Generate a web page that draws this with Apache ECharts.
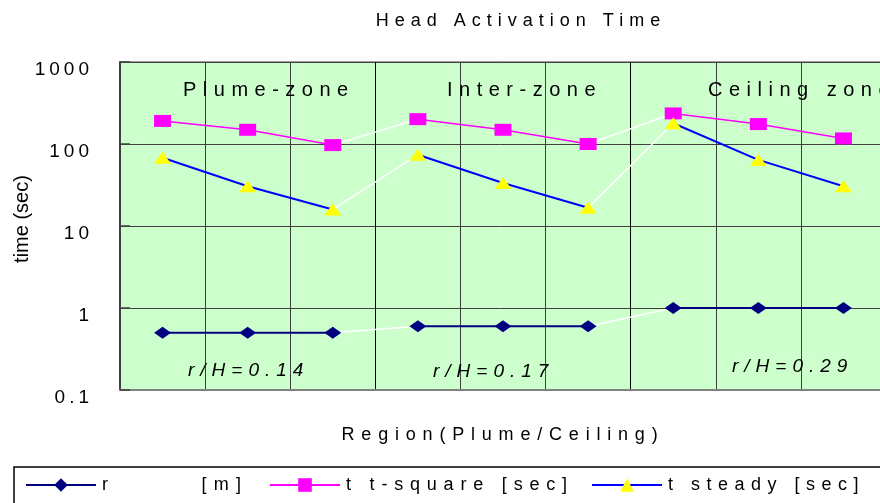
<!DOCTYPE html>
<html>
<head>
<meta charset="utf-8">
<script src="https://cdn.jsdelivr.net/npm/echarts@6/dist/echarts.min.js"></script>
<style>html,body{margin:0;padding:0;background:#fff}#chart{width:880px;height:503px}</style>
</head>
<body>
<div id="chart"></div>
<script>
// ---- data ----
const chartTitle = 'Head Activation Time';
const categories = ['1', '2', '3', '4', '5', '6', '7', '8', '9'];
const zoneNames = ['Plume-zone', 'Inter-zone', 'Ceiling zone'];
const ratioLabels = ['r/H=0.14', 'r/H=0.17', 'r/H=0.29'];
const yTickLabels = ['0.1', '1', '10', '100', '1000'];
const xAxisName = 'Region(Plume/Ceiling)';
const yAxisName = 'time (sec)';
const rName = 'r       [m]';
const tSquareName = 't t-square [sec]';
const tSteadyName = 't steady [sec]';
const rValues = [0.5, 0.5, 0.5, 0.6, 0.6, 0.6, 1.0, 1.0, 1.0];
const tSquareValues = [191, 149, 97, 201, 149, 100, 236, 175, 117];
const tSteadyValues = [68, 30.5, 15.9, 74, 33.5, 16.7, 179, 64, 30.5];

// ---- letter spacing (visual style only) ----
const FONT = "'Liberation Sans', Arial, sans-serif";
const SPACING = {};
SPACING[chartTitle] = 6;
zoneNames.forEach(z => SPACING[z] = 6.5);
ratioLabels.forEach(z => SPACING[z] = 6);
SPACING[xAxisName] = 6.8;
SPACING[rName] = 7.3;
SPACING[tSquareName] = 6.8;
SPACING[tSteadyName] = 6.5;
yTickLabels.forEach(z => SPACING[z] = 4);
function spacingFor(t) {
  if (typeof t !== 'string') return 0;
  return SPACING[t] || 0;
}
(function () {
  const P = CanvasRenderingContext2D.prototype;
  ['fillText', 'strokeText', 'measureText'].forEach(fn => {
    const orig = P[fn];
    P[fn] = function () {
      const s = spacingFor(arguments[0]);
      if (!s) return orig.apply(this, arguments);
      const old = this.letterSpacing;
      this.letterSpacing = s + 'px';
      try { return orig.apply(this, arguments); }
      finally { this.letterSpacing = old; }
    };
  });
})();

// ---- series construction ----
function buildSeries(name, values, sty) {
  const out = [];
  for (let z = 0; z < 2; z++) {
    const i = z * 3 + 2;
    out.push({
      type: 'line', name: name + ' link', silent: true, symbol: 'none', showSymbol: false,
      data: values.map((v, k) => (k === i || k === i + 1) ? v : null),
      lineStyle: { color: '#ffffff', width: 1.5 }, z: 2
    });
  }
  for (let z = 0; z < 3; z++) {
    out.push({
      type: 'line', name: name, symbol: sty.symbol, symbolSize: [17, 12], showSymbol: true,
      data: values.map((v, k) => (k >= z * 3 && k < z * 3 + 3) ? v : null),
      itemStyle: { color: sty.fill, borderWidth: 0 },
      lineStyle: { color: sty.line, width: sty.width }, z: 3
    });
  }
  return out;
}

const series = [].concat(
  buildSeries(rName, rValues, { symbol: 'diamond', fill: '#000080', line: '#000080', width: 2 }),
  buildSeries(tSquareName, tSquareValues, { symbol: 'rect', fill: '#ff00ff', line: '#ff00ff', width: 1.5 }),
  buildSeries(tSteadyName, tSteadyValues, { symbol: 'triangle', fill: '#ffff00', line: '#0000ff', width: 2 })
);

const zonePos = [[183, 90], [447, 90], [708, 90]];
const ratioPos = [[188, 371], [433, 372], [732, 367]];
const graphics = [];
zoneNames.forEach((t, i) => graphics.push({
  type: 'text', x: zonePos[i][0], y: zonePos[i][1], z: 10,
  style: { text: t, fontSize: 20, fontFamily: FONT, fill: '#000', verticalAlign: 'middle', align: 'left' }
}));
ratioLabels.forEach((t, i) => graphics.push({
  type: 'text', x: ratioPos[i][0], y: ratioPos[i][1], z: 10,
  style: { text: t, fontSize: 19, fontStyle: 'italic', fontFamily: FONT, fill: '#000', verticalAlign: 'middle', align: 'left' }
}));
graphics.push({
  type: 'rect', shape: { x: 14, y: 467, width: 900, height: 40 }, z: 1,
  style: { fill: 'none', stroke: '#000', lineWidth: 1.5 }
});

const legendNames = [rName, tSquareName, tSteadyName];
const legendLeft = [20, 264, 586];
const legends = legendNames.map((n, i) => ({
  data: [n], left: legendLeft[i], top: 471, width: 600, itemWidth: 70, itemHeight: 17,
  textStyle: { fontSize: 18, color: '#000', fontFamily: FONT, padding: [0, 0, 0, 1] }
}));

const chart = echarts.init(document.getElementById('chart'), null, { renderer: 'canvas' });
chart.setOption({
  animation: false,
  backgroundColor: '#ffffff',
  title: {
    text: chartTitle, left: 516, top: 7, textAlign: 'center',
    textStyle: { fontSize: 18, fontWeight: 'normal', fontFamily: FONT, color: '#000' }
  },
  grid: {
    left: 120, width: 766, top: 62, bottom: 113, outerBoundsMode: 'none', containLabel: false,
    show: true, backgroundColor: '#ccffcc', borderColor: '#808080', borderWidth: 1.5
  },
  legend: legends,
  xAxis: {
    type: 'category', data: categories, boundaryGap: true,
    name: xAxisName, nameLocation: 'middle', nameGap: 36,
    nameTextStyle: { fontSize: 18, color: '#000', fontFamily: FONT },
    axisLabel: { show: false }, axisTick: { show: false },
    axisLine: { show: true, lineStyle: { color: '#808080', width: 2 } },
    splitLine: { show: true, lineStyle: { color: ['#000000', '#404040', '#404040'], width: 1 } }
  },
  yAxis: {
    type: 'log', logBase: 10, min: 0.1, max: 1000,
    name: yAxisName, nameLocation: 'middle', nameGap: 88, nameMoveOverlap: false,
    nameTextStyle: { fontSize: 20, color: '#000', fontFamily: FONT, padding: [0, 0, 0, 14] },
    axisLine: { show: true, lineStyle: { color: '#404040', width: 2 } },
    axisTick: { show: true, inside: true, length: 10, lineStyle: { color: '#404040', width: 1.5 } },
    minorTick: { show: false },
    splitLine: { show: true, lineStyle: { color: '#404040', width: 1 } },
    axisLabel: {
      fontSize: 19, color: '#000', fontFamily: FONT, margin: 27,
      verticalAlign: 'top', lineHeight: 16,
      formatter: v => yTickLabels.find(t => Math.abs(parseFloat(t) - v) < 1e-9 * Math.max(1, v)) || String(+v.toPrecision(6))
    }
  },
  graphic: graphics,
  series: series
});
</script>
</body>
</html>
